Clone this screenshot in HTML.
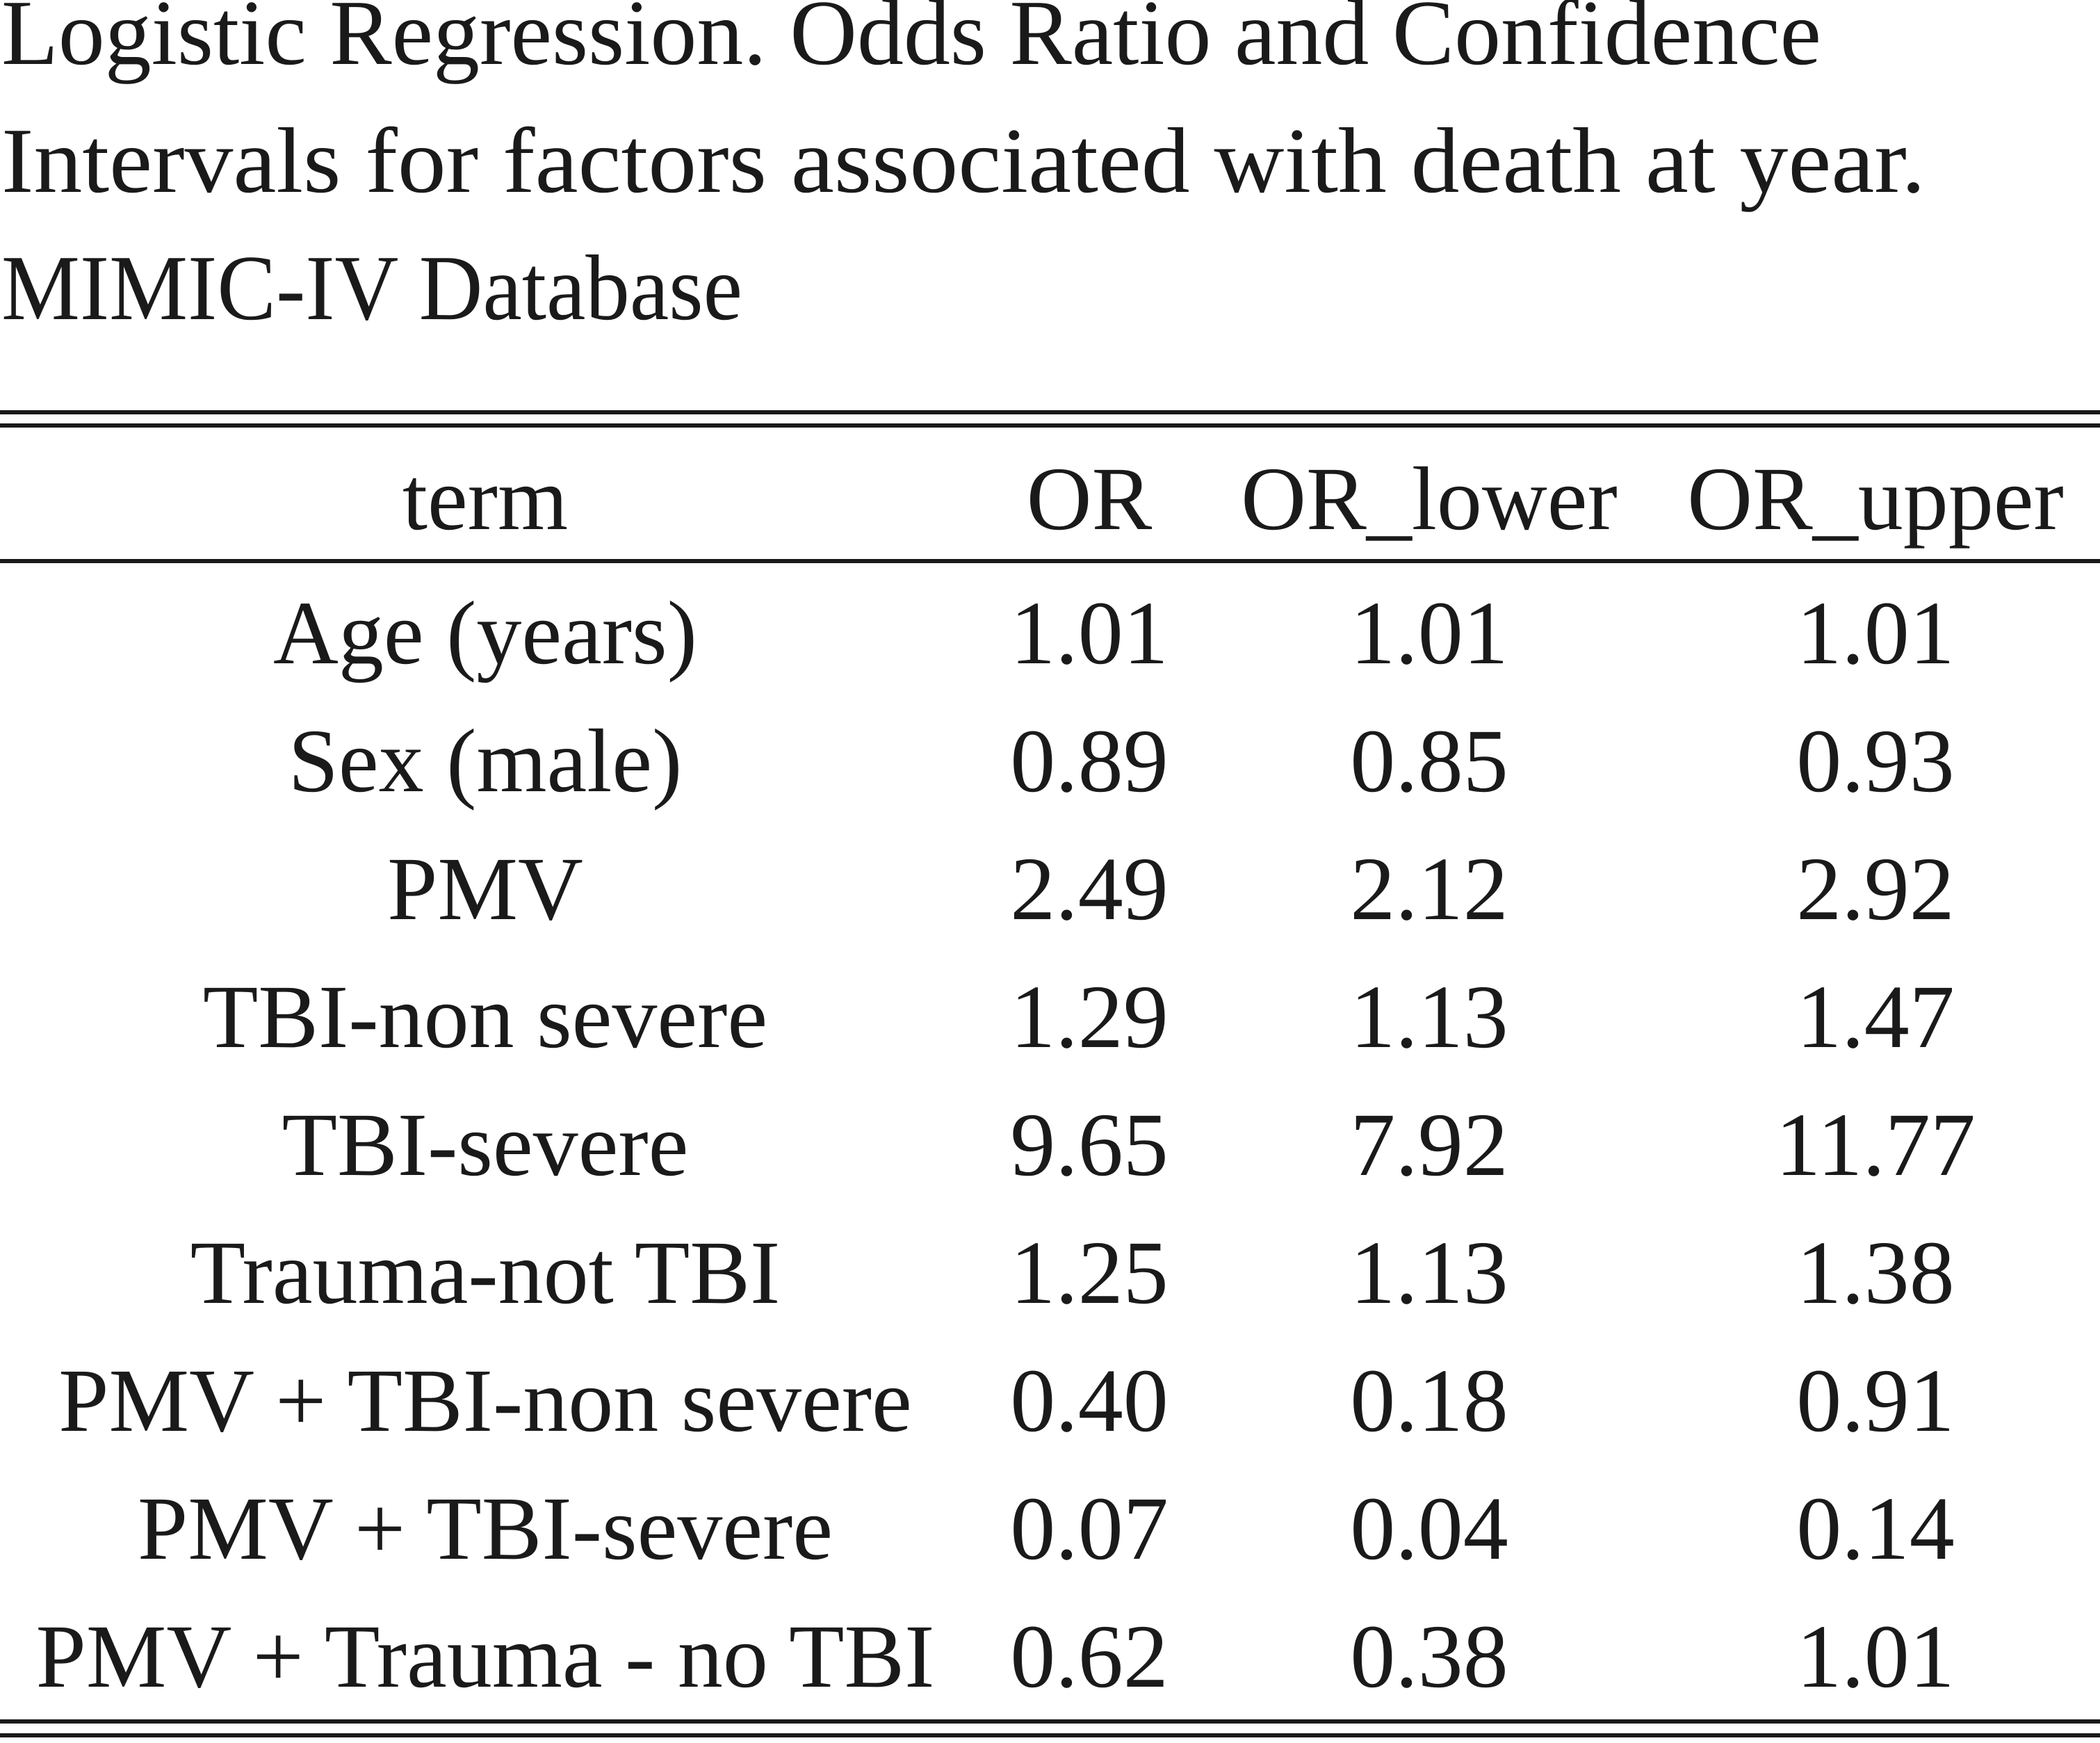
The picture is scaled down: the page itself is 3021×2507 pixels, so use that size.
<!DOCTYPE html>
<html><head><meta charset="utf-8"><style>
html,body{margin:0;padding:0;background:#fff}
svg{display:block}
text{font-family:"Liberation Serif",serif;fill:#1a1a1a}
</style></head><body>
<svg width="3021" height="2507" viewBox="0 0 3021 2507">
<rect width="3021" height="2507" fill="#fff"/>
<g font-size="134">
<text x="2" y="92" textLength="2618" lengthAdjust="spacingAndGlyphs">Logistic Regression. Odds Ratio and Confidence</text>
<text x="2" y="276" textLength="2768" lengthAdjust="spacingAndGlyphs">Intervals for factors associated with death at year.</text>
<text x="2" y="459" textLength="1066" lengthAdjust="spacingAndGlyphs">MIMIC-IV Database</text>
</g>
<g fill="#1a1a1a">
<rect x="0" y="590" width="3021" height="6"/>
<rect x="0" y="609" width="3021" height="6"/>
<rect x="0" y="804" width="3021" height="6"/>
<rect x="0" y="2473" width="3021" height="6"/>
<rect x="0" y="2493" width="3021" height="6"/>
</g>
<g id="tbl" font-size="130" text-anchor="middle"></g>
</svg>
<script>
const headers=["term","OR","OR_lower","OR_upper"];
const terms=["Age (years)","Sex (male)","PMV","TBI-non severe","TBI-severe","Trauma-not TBI","PMV + TBI-non severe","PMV + TBI-severe","PMV + Trauma - no TBI"];
const orVals=["1.01","0.89","2.49","1.29","9.65","1.25","0.40","0.07","0.62"];
const lowerVals=["1.01","0.85","2.12","1.13","7.92","1.13","0.18","0.04","0.38"];
const upperVals=["1.01","0.93","2.92","1.47","11.77","1.38","0.91","0.14","1.01"];
const colX=[698,1567,2056,2698];
const g=document.getElementById('tbl');
const NS="http://www.w3.org/2000/svg";
function cell(x,y,t,name){
  const e=document.createElementNS(NS,'text');
  e.setAttribute('x',x);e.setAttribute('y',y);e.textContent=t;
  
  
  g.appendChild(e);
}
headers.forEach((h,i)=>cell(colX[i],761,h,'header-'+h.toLowerCase().replace('_','-')));
terms.forEach((t,r)=>{
  const y=954+r*184;
  cell(colX[0],y,t,'term-cell');
  cell(colX[1],y,orVals[r],'or-cell');
  cell(colX[2],y,lowerVals[r],'or-lower-cell');
  cell(colX[3],y,upperVals[r],'or-upper-cell');
});
</script>
</body></html>
